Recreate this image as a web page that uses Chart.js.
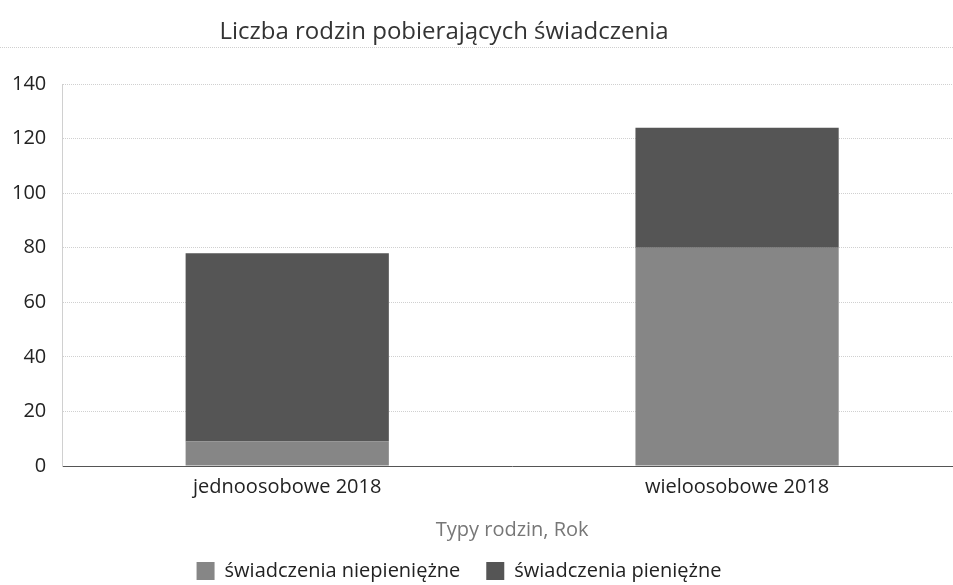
<!DOCTYPE html>
<html lang="pl">
<head>
    <meta charset="UTF-8">
    <title>Liczba rodzin pobierających świadczenia</title>
    <script src="https://cdn.jsdelivr.net/npm/chart.js"></script>
<style>
    body {
        margin: 0;
        background: #fff;
        overflow: hidden;
    }
    .wrap {
        width: 953px;
        height: 585px;
        overflow: hidden;
    }
    .inner {
        width: 962px;
        height: 585px;
        position: relative;
    }
</style>
</head>
<body>
<div class="wrap"><div class="inner">
<canvas id="myChart"></canvas>
</div></div>
<script>
    // dane
    const chartTitle = 'Liczba rodzin pobierających świadczenia';
    const categories = ['jednoosobowe 2018', 'wieloosobowe 2018'];
    const niepieniezne = [9, 80];
    const pieniezne = [69, 44];
    const yTicks = [0, 20, 40, 60, 80, 100, 120, 140];

    const fontFamily = '"Open Sans", "Noto Sans", sans-serif';

    // tytuł + kropkowana linia pod nim
    const titlePlugin = {
        id: 'topTitle',
        afterLayout(chart) {
            // legenda w oryginale jest trochę przesunięta w lewo
            if (chart.legend) {
                chart.legend.left -= 20;
                chart.legend.right -= 20;
            }
        },
        afterDraw(chart) {
            const ctx = chart.ctx;
            ctx.save();
            ctx.fillStyle = '#333';
            ctx.font = '24px ' + fontFamily;
            ctx.textAlign = 'center';
            ctx.textBaseline = 'middle';
            ctx.fillText(chartTitle, 444, 32);
            ctx.strokeStyle = '#cfcfcf';
            ctx.lineWidth = 1;
            ctx.setLineDash([1, 1]);
            ctx.beginPath();
            ctx.moveTo(0, 47.5);
            ctx.lineTo(962, 47.5);
            ctx.stroke();
            ctx.restore();
        }
    };

    const ctx = document.getElementById('myChart').getContext('2d');
    new Chart(ctx, {
        type: 'bar',
        data: {
            labels: categories,
            datasets: [{
                label: 'świadczenia niepieniężne',
                data: niepieniezne,
                backgroundColor: '#868686',
                borderWidth: 0,
                barPercentage: 0.9,
                categoryPercentage: 0.502
            }, {
                label: 'świadczenia pieniężne',
                data: pieniezne,
                backgroundColor: '#555555',
                borderWidth: 0,
                barPercentage: 0.9,
                categoryPercentage: 0.502
            }]
        },
        options: {
            responsive: true,
            maintainAspectRatio: false,
            animation: false,
            layout: {
                padding: { top: 84, left: -4, right: 0, bottom: -6 }
            },
            scales: {
                x: {
                    stacked: true,
                    grid: { display: false },
                    border: { color: '#555', dash: [1, 1] },
                    ticks: { color: '#222', font: { family: fontFamily, size: 20 }, padding: 1 },
                    title: {
                        display: true,
                        text: 'Typy rodzin, Rok',
                        color: '#777',
                        font: { family: fontFamily, size: 20 },
                        padding: { top: 18, bottom: -7 }
                    }
                },
                y: {
                    stacked: true,
                    min: 0,
                    max: 140,
                    afterBuildTicks(axis) {
                        axis.ticks = yTicks.map(v => ({ value: v }));
                    },
                    grid: { color: '#d0d0d0', drawTicks: false },
                    border: { display: true, color: '#d0d0d0', dash: [1, 1] },
                    ticks: { color: '#222', font: { family: fontFamily, size: 20 }, padding: 16 }
                }
            },
            plugins: {
                legend: {
                    position: 'bottom',
                    labels: {
                        color: '#222',
                        font: { family: fontFamily, size: 20 },
                        boxWidth: 18,
                        boxHeight: 18,
                        padding: 26
                    }
                },
                tooltip: { enabled: false }
            }
        },
        plugins: [titlePlugin]
    });
</script>
</body>
</html>
